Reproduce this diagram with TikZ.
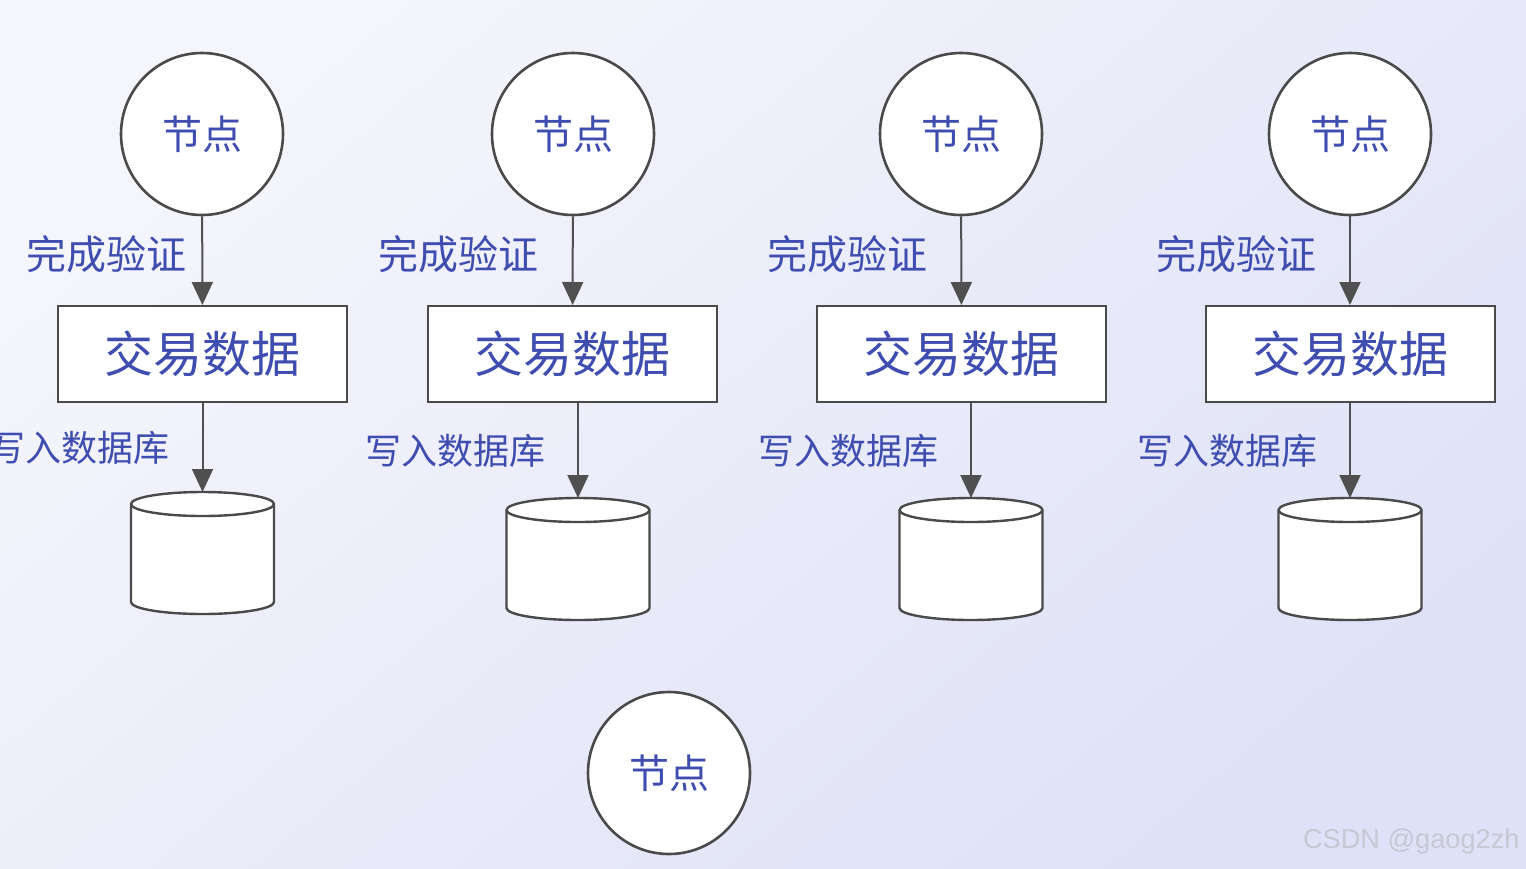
\documentclass[tikz,border=0pt]{standalone}
\usepackage{fontspec}
\setmainfont{Noto Sans CJK SC}
\newfontfamily\wmfont{Liberation Sans}
\usetikzlibrary{arrows.meta}

\begin{document}
\begin{tikzpicture}[
    x=0.5pt, y=-0.5pt,
    peer/.style={circle, draw=edge, line width=1.3pt, fill=white,
      minimum size=81pt, inner sep=0pt, text=label,
      font=\fontsize{20}{20}\selectfont},
    block/.style={rectangle, draw=edge, line width=1pt, fill=white,
      minimum width=144.5pt, minimum height=48pt, inner sep=0pt, text=label,
      font=\fontsize{24.5}{24.5}\selectfont},
    store/.style={draw=edge, line width=1.2pt, fill=white},
    flow/.style={draw=arrowc, line width=1pt,
      -{Triangle[width=10.5pt,length=11.5pt]}},
    verify/.style={text=label, inner sep=0pt, font=\fontsize{20}{20}\selectfont},
    write/.style={text=label, inner sep=0pt, font=\fontsize{18}{18}\selectfont}
]
\definecolor{edge}{HTML}{4A4A4A}
\definecolor{arrowc}{HTML}{505050}
\definecolor{label}{HTML}{3F4DB0}
\definecolor{bgA}{HTML}{F5F5FC}
\definecolor{bgB}{HTML}{DFE2F7}
\definecolor{wm}{HTML}{C6C8D4}

% background
\shade[top color=bgA, bottom color=bgB, shading angle=40]
  (0,0) rectangle (1526,868);
\useasboundingbox (0,0) rectangle (1526,868);

% four columns: node -> data -> database
\foreach \i/\cx/\bx/\sx/\st in {1/202/202.5/202.5/492, 2/573/572.5/578/498,
                                3/961/961.5/971/498, 4/1350/1350/1350/498} {
  \node[peer] (n\i) at (\cx,134) {节点};
  \node[block] (d\i) at (\bx,354) {交易数据};
  % database cylinder, 143 x 122
  \path[store] (\sx-71.5,\st+110) arc[start angle=180, end angle=0, x radius=71.5, y radius=12]
    -- (\sx+71.5,\st+12) arc[start angle=0, end angle=-180, x radius=71.5, y radius=12] -- cycle;
  \draw[store, fill=none] (\sx-71.5,\st+12)
    arc[start angle=180, end angle=0, x radius=71.5, y radius=12];
  \coordinate (s\i) at (\sx,\st);
}
% col 2--4 share the offset of the labels
\draw[flow] (n1) -- node[verify, pos=0.43, left=7.5pt] {完成验证} (d1);
\foreach \i in {2,3,4} {
  \draw[flow] (n\i) -- node[verify, pos=0.43, left=16.5pt] {完成验证} (d\i);
}
\foreach \i in {1,...,4} {
  \draw[flow] (d\i.south -| s\i) -- node[write, midway, left=16pt] {写入数据库} (s\i);
}

% lone node
\node[peer] (n5) at (669,773) {节点};

% watermark
\node[text=wm, anchor=east, inner sep=0pt, font=\wmfont\fontsize{13.6}{13.6}\selectfont]
  (mark) at (1520,841) {CSDN @gaog2zh};
\end{tikzpicture}
\end{document}
